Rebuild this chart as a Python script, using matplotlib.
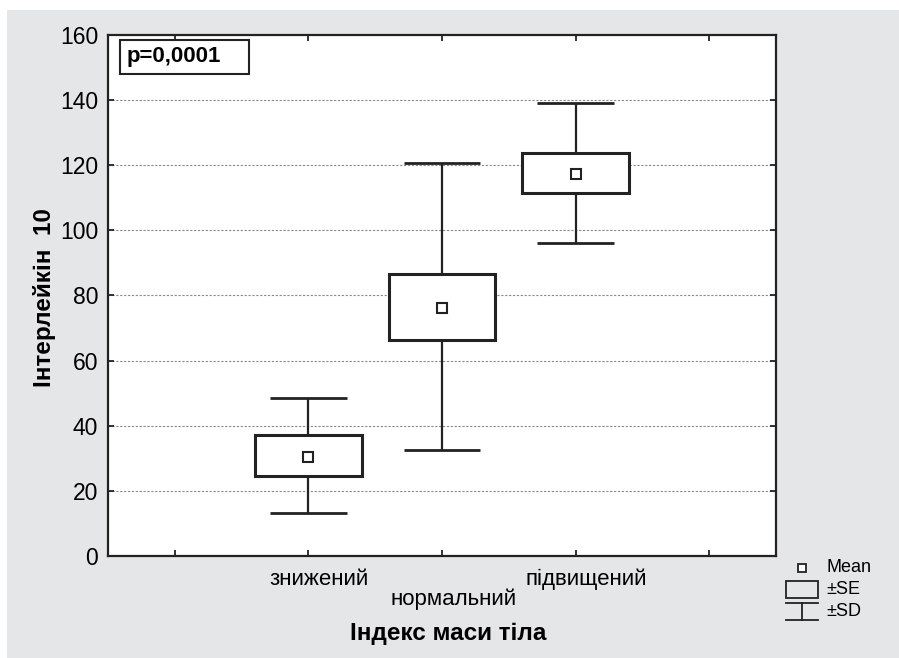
import matplotlib
matplotlib.use('Agg')
import matplotlib.pyplot as plt
from matplotlib.patches import Rectangle
from matplotlib.lines import Line2D
from matplotlib import font_manager

# Дані
categories = ['знижений', 'нормальний', 'підвищений']
means = [30.5, 76.3, 117.3]
se_lo = [24.6, 66.4, 111.4]
se_hi = [37.3, 86.7, 123.9]
sd_lo = [13.1, 32.4, 96.2]
sd_hi = [48.6, 120.7, 139.0]
y_ticks = [0, 20, 40, 60, 80, 100, 120, 140, 160]
p_text = 'p=0,0001'

# Шрифти
names = {f.name for f in font_manager.fontManager.ttflist}
narrow = 'Liberation Sans Narrow' if 'Liberation Sans Narrow' in names else 'Liberation Sans'
sans = 'Liberation Sans'
plt.rcParams['font.family'] = [sans, 'DejaVu Sans']

W, H = 899, 658
fig = plt.figure(figsize=(W / 100, H / 100), dpi=100, facecolor='white')

# сірий фон
fig.patches.append(Rectangle((7 / W, 0), 1 - 7 / W, 1 - 10 / H, transform=fig.transFigure,
                             fc='#e5e6e8', ec='none', zorder=-10))

ax = fig.add_axes([108 / W, 1 - 556 / H, (776 - 108) / W, (556 - 35) / H])
ax.set_facecolor('white')

pos = [1, 2, 3]
dark = '#222222'

# сітка
for yv in y_ticks[1:-1]:
    ax.axhline(yv, color='#8a8a8a', lw=0.8, ls=(0, (2, 1.5)), zorder=1)

# ±SE прямокутники
heights = [h - l for h, l in zip(se_hi, se_lo)]
ax.bar(pos, heights, bottom=se_lo, width=0.8, color='white', edgecolor=dark,
       linewidth=2.2, zorder=3)
# вуса ±SD
ax.vlines(pos, sd_lo, se_lo, color=dark, lw=1.6, zorder=2)
ax.vlines(pos, se_hi, sd_hi, color=dark, lw=1.6, zorder=2)
cap = 0.575
ax.hlines(sd_lo, [p - cap / 2 for p in pos], [p + cap / 2 for p in pos], color=dark, lw=2.0, zorder=2)
ax.hlines(sd_hi, [p - cap / 2 for p in pos], [p + cap / 2 for p in pos], color=dark, lw=2.0, zorder=2)
# середні
ax.plot(pos, means, ls='none', marker='s', ms=7, mfc='white', mec=dark, mew=1.5, zorder=4)

ax.set_xlim(-0.5, 4.5)
ax.set_ylim(0, 160)
ax.set_yticks(y_ticks)
ax.set_yticklabels([str(v) for v in y_ticks], fontfamily=narrow, fontsize=16.5)
ax.set_xticks([0, 1, 2, 3, 4])
ax.set_xticklabels([])
ax.tick_params(direction='in', length=4, width=1.3, color=dark, top=True, right=True, pad=7)
for s in ax.spines.values():
    s.set_color(dark)
    s.set_linewidth(1.6)

# підписи категорій у два ряди
offsets = [21, 35.5, 21]
for p, lab, off in zip(pos, categories, offsets):
    ax.annotate(lab, xy=(p, 0), xycoords=('data', 'axes fraction'), xytext=(8, -off),
                textcoords='offset points', ha='center', va='baseline', fontsize=16)

# p-значення
ax.add_patch(Rectangle((12 / 668, (556 - 74) / 521), 129 / 668, 34 / 521, transform=ax.transAxes,
                       fc='white', ec=dark, lw=1.5, zorder=5))
ax.text(19 / 668, (556 - 57) / 521, p_text, transform=ax.transAxes, fontsize=16,
        fontweight='bold', va='center', ha='left', zorder=6)

# підписи осей
fig.text(448 / W, 1 - 640 / H, 'Індекс маси тіла', ha='center', va='baseline',
         fontsize=17.5, fontweight='bold')
fig.text(45 / W, 1 - 298 / H, 'Інтерлейкін  10', ha='center', va='center', rotation=90,
         fontsize=17.5, fontweight='bold')

# легенда
def fx(x):
    return x / W

def fy(y):
    return 1 - y / H

fig.add_artist(Line2D([fx(802)], [fy(568)], marker='s', ms=6, mfc='white', mec=dark, mew=1.3,
                      ls='none', transform=fig.transFigure))
fig.patches.append(Rectangle((fx(786), fy(598)), 32 / W, 17 / H, transform=fig.transFigure,
                             fc='none', ec=dark, lw=1.3))
fig.add_artist(Line2D([fx(786), fx(818)], [fy(603), fy(603)], color=dark, lw=1.3, transform=fig.transFigure))
fig.add_artist(Line2D([fx(786), fx(818)], [fy(620), fy(620)], color=dark, lw=1.3, transform=fig.transFigure))
fig.add_artist(Line2D([fx(802), fx(802)], [fy(603), fy(620)], color=dark, lw=1.3, transform=fig.transFigure))
for txt, yy in [('Mean', 568), ('±SE', 590), ('±SD', 612)]:
    fig.text(fx(826), fy(yy), txt, ha='left', va='center', fontsize=13)

fig.savefig('out.png', dpi=100, facecolor=fig.get_facecolor())
